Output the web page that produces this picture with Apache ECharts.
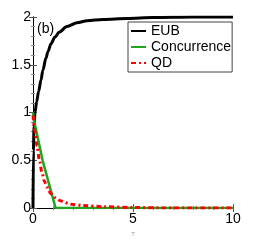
<!DOCTYPE html>
<html><head><meta charset="utf-8">
<script src="https://cdn.jsdelivr.net/npm/echarts@6/dist/echarts.min.js"></script>
<style>html,body{margin:0;padding:0;background:#fff}#c{width:258px;height:242px}</style>
</head><body><div id="c"></div>
<script>
var eubX = [0, 0.02, 0.05, 0.1, 0.18, 0.28, 0.4, 0.49, 0.65, 0.75, 0.9, 1.1, 1.3, 1.7, 2.2, 2.7, 3.5, 4.7, 6, 8, 10];
var eubY = [0, 0.6, 0.85, 1.0, 1.11, 1.22, 1.34, 1.44, 1.57, 1.64, 1.72, 1.79, 1.84, 1.9, 1.94, 1.96, 1.975, 1.985, 1.995, 2.0, 2.0];
var conX = [0, 0.05, 0.48, 1.13, 3, 10];
var conY = [1.0, 0.92, 0.5, 0, 0, 0];
var qdX = [0, 0.1, 0.2, 0.32, 0.45, 0.57, 0.7, 0.9, 1.1, 1.4, 1.9, 2.5, 3.5, 5, 6.5, 10];
var qdY = [0.97, 0.8, 0.65, 0.5, 0.37, 0.28, 0.22, 0.15, 0.11, 0.074, 0.04, 0.028, 0.015, 0.006, 0.002, 0];
var xTicks = [0, 5, 10];
var yTicks = [0, 0.5, 1, 1.5, 2];
var names = ['EUB', 'Concurrence', 'QD'];

function pairs(xs, ys) { return xs.map(function (x, i) { return [x, ys[i]]; }); }
var font = 'Liberation Sans';
var chart = echarts.init(document.getElementById('c'));
var axLine = { show: true, lineStyle: { color: '#000', width: 1 } };
var tick = { show: true, inside: true, length: 4, lineStyle: { color: '#555' } };
var minor = { show: true, length: 2, splitNumber: 5, lineStyle: { color: '#888' } };
chart.setOption({
  animation: false,
  textStyle: { fontFamily: font },
  grid: { left: 33, top: 17, right: 25, bottom: 27 },
  xAxis: [
    { type: 'value', min: 0, max: 10, interval: 5, position: 'bottom',
      axisLine: axLine, axisTick: tick, minorTick: minor, splitLine: { show: false },
      axisLabel: { color: '#000', fontSize: 14, margin: 4, fontFamily: font,
        formatter: function (v) { return xTicks.indexOf(v) >= 0 ? String(v) : ''; } },
      name: 'T', nameLocation: 'middle', nameGap: 18,
      nameTextStyle: { fontSize: 6, color: '#999', fontFamily: font } },
    { type: 'value', min: 0, max: 10, interval: 5, position: 'top',
      axisLine: axLine, axisTick: tick, minorTick: minor, splitLine: { show: false },
      axisLabel: { show: false } }
  ],
  yAxis: [
    { type: 'value', min: 0, max: 2, interval: 0.5, position: 'left',
      axisLine: axLine, axisTick: tick, minorTick: minor, splitLine: { show: false },
      axisLabel: { color: '#000', fontSize: 14, margin: 2, fontFamily: font,
        formatter: function (v) { return yTicks.indexOf(v) >= 0 ? String(v) : ''; } } },
    { type: 'value', min: 0, max: 2, interval: 0.5, position: 'right',
      axisLine: axLine, axisTick: tick, minorTick: minor, splitLine: { show: false },
      axisLabel: { show: false } }
  ],
  legend: {
    data: names, orient: 'vertical', left: 128, top: 22,
    itemWidth: 15, itemHeight: 14, itemGap: 2, padding: [2, 1, 2, 2],
    itemStyle: { opacity: 0 },
    borderColor: '#444', borderWidth: 1, backgroundColor: '#fff',
    textStyle: { fontSize: 14, color: '#000', fontFamily: font }
  },
  graphic: [{ type: 'text', left: 37, top: 22, style: { text: '(b)', fontSize: 14, fill: '#000', fontFamily: font } }],
  series: [
    { name: names[0], type: 'line', data: pairs(eubX, eubY), showSymbol: false, symbol: 'none',
      smooth: 0.3, smoothMonotone: 'x', lineStyle: { color: '#000', width: 3 }, itemStyle: { color: '#000' }, z: 3 },
    { name: names[1], type: 'line', data: pairs(conX, conY), showSymbol: false, symbol: 'none',
      lineStyle: { color: '#1fa51f', width: 2.5 }, itemStyle: { color: '#1fa51f' }, z: 4 },
    { name: names[2], type: 'line', data: pairs(qdX, qdY), showSymbol: false, symbol: 'none',
      smooth: 0.3, smoothMonotone: 'x', lineStyle: { color: '#ff0000', width: 3, type: [5, 3, 2, 3] }, itemStyle: { color: '#ff0000' }, z: 5 }
  ]
});
</script></body></html>
